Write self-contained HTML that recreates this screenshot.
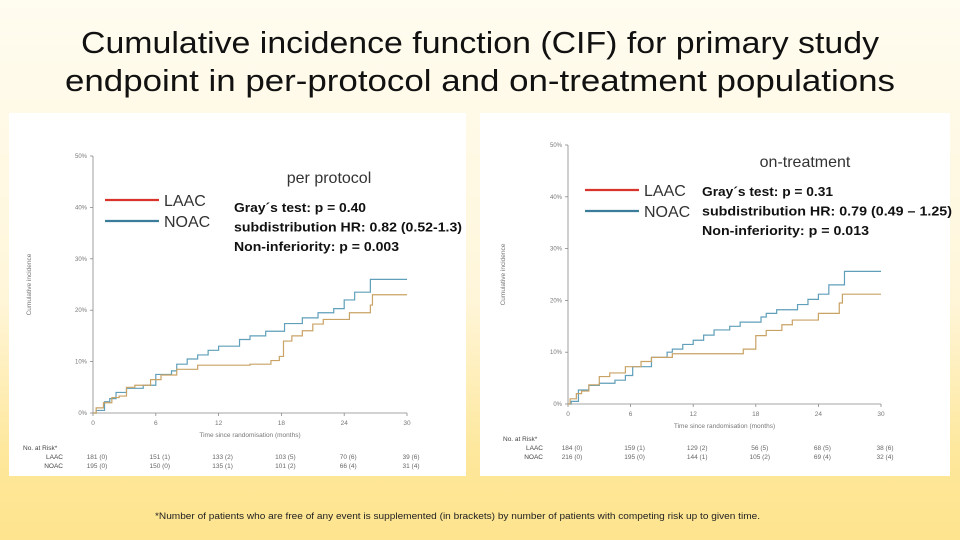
<!DOCTYPE html>
<html><head><meta charset="utf-8">
<style>
html,body{margin:0;padding:0;width:960px;height:540px;overflow:hidden}
body{background:linear-gradient(180deg,#fffcf0 0%,#fff6da 55%,#fee79a 85%,#fee48e 100%);font-family:"Liberation Sans",sans-serif}
svg{display:block}
</style></head>
<body>
<svg id="s" width="960" height="540" xmlns="http://www.w3.org/2000/svg">
<g font-family="'Liberation Sans',sans-serif">
<text x="480" y="53" text-anchor="middle" font-size="31" textLength="798" lengthAdjust="spacingAndGlyphs" fill="#111">Cumulative incidence function (CIF) for primary study</text>
<text x="480" y="91" text-anchor="middle" font-size="31" textLength="830" lengthAdjust="spacingAndGlyphs" fill="#111">endpoint in per-protocol and on-treatment populations</text>
</g>
<rect x="9" y="113" width="457" height="363" fill="#fff"/>
<rect x="480" y="113" width="470" height="363" fill="#fff"/>
<text x="155" y="519" font-size="9" fill="#222" textLength="605" lengthAdjust="spacingAndGlyphs">*Number of patients who are free of any event is supplemented (in brackets) by number of patients with competing risk up to given time.</text>
<g id="c1"></g><g id="c2"></g>
</svg>
<script>
// Per-protocol data
const ppLaacT=[0,0.3,1,1.8,2.5,3.2,4,5.5,6.5,8,10,15,17,17.8,18.2,19,20,21,22,24.5,26.5,26.7,30];
const ppLaacV=[0,1,2,3,3.3,5,5.4,6.5,7.4,8.5,9.3,9.5,10.2,11,14,15,16,17.3,18.2,19.5,21,23,23];
const ppNoacT=[0,0.3,1.1,1.6,2.2,3.2,4.8,6,7.5,8,9,10,11,12,14,15,16.5,18.3,20,21.5,23,24,25,26.5,30];
const ppNoacV=[0,0.5,2.2,2.8,4,4.8,5.4,7.5,8.2,9.5,10.5,11.3,12.2,13,14.3,15,15.9,17.4,18.5,19.5,20.3,22,23.5,26,26];
// On-treatment data
const otLaacT=[0,0.2,0.8,1.3,2,3,4,5.5,7,8,10,16.8,18,19,20.5,21.5,24,26,26.3,30];
const otLaacV=[0,1,2,2.5,3.7,5.3,6,7.2,8.2,9,9.7,10.6,13.2,14.2,15.3,16.2,17.5,19.5,21.2,21.2];
const otNoacT=[0,0.3,1,2,3,4.5,5.5,6.2,8,9.5,10,11,12,13,14,15.5,16.5,18.5,19,20,22,23,24,25,26.5,30];
const otNoacV=[0,0.5,2.7,3.6,4,4.6,5.5,7.2,9,10,10.6,11.5,12.3,13.3,14.3,15,15.8,16.8,17.5,18.2,19.2,20.2,21.2,23,25.6,25.6];
const xTicks=[0,6,12,18,24,30];
const yTicks=[0,10,20,30,40,50];
const ppRiskLaac=["181 (0)","151 (1)","133 (2)","103 (5)","70 (6)","39 (6)"];
const ppRiskNoac=["195 (0)","150 (0)","135 (1)","101 (2)","66 (4)","31 (4)"];
const otRiskLaac=["184 (0)","159 (1)","129 (2)","56 (5)","68 (5)","38 (6)"];
const otRiskNoac=["216 (0)","195 (0)","144 (1)","105 (2)","69 (4)","32 (4)"];

const NS="http://www.w3.org/2000/svg";
function mk(p,tag,attrs,txt){const e=document.createElementNS(NS,tag);for(const k in attrs)e.setAttribute(k,attrs[k]);if(txt!==undefined)e.textContent=txt;p.appendChild(e);return e;}

function chart(g,cfg){
  const X=t=>cfg.x0+(cfg.x1-cfg.x0)*t/30;
  const Y=v=>cfg.y0-(cfg.y0-cfg.y1)*v/50;
  const ax=mk(g,'path',{d:`M${X(0)} ${Y(50)}V${Y(0)}H${X(30)}`,stroke:'#888',fill:'none','stroke-width':0.8});
  
  
  yTicks.forEach(v=>{
    mk(g,'line',{x1:X(0)-3,x2:X(0),y1:Y(v),y2:Y(v),stroke:'#888','stroke-width':0.8});
    const t=mk(g,'text',{x:X(0)-6,y:Y(v)+2,'font-size':6,'text-anchor':'end',fill:'#777'},v+'%');
    
    
  });
  xTicks.forEach(v=>{
    mk(g,'line',{x1:X(v),x2:X(v),y1:Y(0),y2:Y(0)+3,stroke:'#888','stroke-width':0.8});
    const t=mk(g,'text',{x:X(v),y:Y(0)+12,'font-size':6.5,'text-anchor':'middle',fill:'#777'},v);
    
    
  });
  const xt=mk(g,'text',{x:(X(0)+X(30))/2,y:Y(0)+24,'font-size':6.5,'text-anchor':'middle',fill:'#777'},cfg.xTitle);
  
  
  const yt=mk(g,'text',{x:0,y:0,'font-size':6.5,'text-anchor':'middle',fill:'#777',transform:`translate(${cfg.yTitleX},${(Y(0)+Y(50))/2}) rotate(-90)`},'Cumulative incidence');
  
  
  function step(T,V,color,name){
    let d=`M${X(T[0])} ${Y(V[0])}`;
    for(let i=1;i<T.length;i++){d+=`H${X(T[i])}V${Y(V[i])}`;}
    const p=mk(g,'path',{d,stroke:color,fill:'none','stroke-width':1.2});
    
    
  }
  step(cfg.nT,cfg.nV,'#5f9fba','noac-line');
  step(cfg.lT,cfg.lV,'#c9a265','laac-line');
  // risk table
  const rh=mk(g,'text',{x:cfg.riskLabelX-40,y:Y(0)+37,'font-size':6.5,fill:'#444'},'No. at Risk*');
  
  
  [['LAAC',cfg.rl,Y(0)+46],['NOAC',cfg.rn,Y(0)+55]].forEach(r=>{
    const l=mk(g,'text',{x:cfg.riskLabelX,y:r[2],'font-size':6.5,'text-anchor':'end',fill:'#444'},r[0]);
    
    
    r[1].forEach((s,i)=>{
      const t=mk(g,'text',{x:X(xTicks[i])+4,y:r[2],'font-size':6.5,'text-anchor':'middle',fill:'#666'},s);
      
      
    });
  });
  // legend
  const lg=mk(g,'g',{});
  
  
  mk(lg,'line',{x1:cfg.lgX,x2:cfg.lgX+54,y1:cfg.lgY,y2:cfg.lgY,stroke:'#d9342b','stroke-width':2.2});
  mk(lg,'text',{x:cfg.lgX+59,y:cfg.lgY+6,'font-size':16,fill:'#333'},'LAAC');
  mk(lg,'line',{x1:cfg.lgX,x2:cfg.lgX+54,y1:cfg.lgY+21,y2:cfg.lgY+21,stroke:'#3a7d9b','stroke-width':2.2});
  mk(lg,'text',{x:cfg.lgX+59,y:cfg.lgY+27,'font-size':16,fill:'#333'},'NOAC');
  const st=mk(g,'text',{x:cfg.subX,y:cfg.subY,'font-size':16,'text-anchor':'middle',fill:'#333'},cfg.sub);
  
  
  cfg.stats.forEach((s,i)=>{
    const t=mk(g,'text',{x:cfg.stX,y:cfg.stY+i*19.5,'font-size':12.5,'font-weight':'bold',fill:'#111',textLength:cfg.stW[i],lengthAdjust:'spacingAndGlyphs'},s);
    
    
  });
}
chart(document.getElementById('c1'),{x0:93,x1:407,y0:413,y1:156,xTitle:'Time since randomisation (months)',yTitleX:31,
  lT:ppLaacT,lV:ppLaacV,nT:ppNoacT,nV:ppNoacV,rl:ppRiskLaac,rn:ppRiskNoac,riskLabelX:63,
  lgX:105,lgY:200,sub:'per protocol',subX:329,subY:183,
  stats:['Gray´s test: p = 0.40','subdistribution HR: 0.82 (0.52-1.3)','Non-inferiority: p = 0.003'],stX:234,stY:212,stW:[132,228,165]});
chart(document.getElementById('c2'),{x0:568,x1:881,y0:404,y1:145,xTitle:'Time since randomisation (months)',yTitleX:505,
  lT:otLaacT,lV:otLaacV,nT:otNoacT,nV:otNoacV,rl:otRiskLaac,rn:otRiskNoac,riskLabelX:543,
  lgX:585,lgY:190,sub:'on-treatment',subX:805,subY:167,
  stats:['Gray´s test: p = 0.31','subdistribution HR:  0.79 (0.49 – 1.25)','Non-inferiority: p = 0.013'],stX:702,stY:196,stW:[131,250,167]});
</script>
</body></html>
